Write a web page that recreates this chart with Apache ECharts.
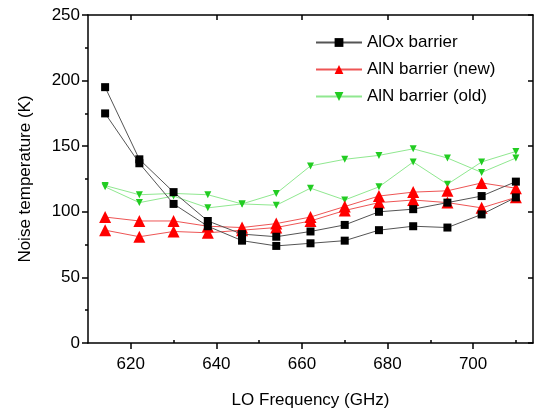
<!DOCTYPE html>
<html lang="en">
<head>
    <meta charset="UTF-8">
    <title>Noise temperature</title>
    <script src="https://cdn.jsdelivr.net/npm/echarts@6/dist/echarts.min.js"></script>
    <style>
        html, body { margin: 0; padding: 0; background: #fff; }
        #main { width: 544px; height: 414px; }
    </style>
</head>
<body>
<div id="main"></div>
<script>
    // LO frequency (GHz)
    var freqs = [614, 622, 630, 638, 646, 654, 662, 670, 678, 686, 694, 702, 710];
    // two measurements per barrier type
    var aloxA = [195, 140, 115, 93, 83, 81, 85, 90, 100, 102, 107, 112, 123];
    var aloxB = [175, 137, 106, 89, 78, 74, 76, 78, 86, 89, 88, 98, 111];
    var alnNewA = [96, 93, 93, 89, 88, 91, 96, 104, 112, 115, 116, 122, 118];
    var alnNewB = [86, 81, 85, 84, 86, 88, 93, 101, 107, 109, 107, 103, 111];
    var alnOldA = [120, 113, 114, 113, 106, 114, 135, 140, 143, 148, 141, 130, 141];
    var alnOldB = [119, 107, 112, 103, 106, 105, 118, 109, 119, 138, 121, 138, 146];

    var xMajor = [620, 640, 660, 680, 700];
    var xMinor = [630, 650, 670, 690, 710];

    function pts(ys) {
        var out = [];
        for (var i = 0; i < freqs.length; i++) {
            out.push([freqs[i], ys[i]]);
        }
        return out;
    }

    var font = 'Liberation Sans, Arial, sans-serif';

    function line(name, ys, symbol, size, rotate, markColor, lineColor, z) {
        return {
            name: name,
            type: 'line',
            data: pts(ys),
            symbol: symbol,
            symbolSize: size,
            symbolRotate: rotate,
            z: z,
            itemStyle: { color: markColor },
            lineStyle: { color: lineColor, width: 1 },
            animation: false
        };
    }

    var myChart = echarts.init(document.getElementById('main'));
    myChart.setOption({
        backgroundColor: '#fff',
        grid: { left: 88, right: 11, top: 15, bottom: 69 },
        legend: {
            orient: 'vertical',
            left: 310,
            top: 29,
            itemGap: 10,
            itemWidth: 46,
            itemHeight: 11,
            textStyle: { fontFamily: font, fontSize: 17, color: '#000' },
            data: ['AlOx barrier', 'AlN barrier (new)', 'AlN barrier (old)']
        },
        xAxis: [
            {
                type: 'value', min: 610, max: 714,
                name: 'LO Frequency (GHz)', nameLocation: 'middle', nameGap: 49,
                nameTextStyle: { fontFamily: font, fontSize: 17, color: '#000' },
                axisLine: { lineStyle: { color: '#000', width: 1.5 } },
                axisTick: { customValues: xMajor, length: 6, lineStyle: { color: '#000', width: 1.5 } },
                axisLabel: { customValues: xMajor, fontFamily: font, fontSize: 17, color: '#000', margin: 13 },
                splitLine: { show: false }
            },
            {
                type: 'value', min: 610, max: 714, gridIndex: 0,
                axisLine: { show: false },
                axisTick: { customValues: xMinor, length: 3, lineStyle: { color: '#000', width: 1.5 } },
                axisLabel: { show: false },
                splitLine: { show: false }
            },
            {
                type: 'value', min: 610, max: 714, position: 'top',
                axisLine: { lineStyle: { color: '#000', width: 1.5 } },
                axisTick: { customValues: xMajor, inside: true, length: 5, lineStyle: { color: '#000', width: 1.5 } },
                axisLabel: { show: false },
                splitLine: { show: false }
            }
        ],
        yAxis: [
            {
                type: 'value', min: 0, max: 250, interval: 50,
                name: 'Noise temperature (K)', nameLocation: 'middle', nameGap: 54,
                nameTextStyle: { fontFamily: font, fontSize: 17, color: '#000' },
                axisLine: { lineStyle: { color: '#000', width: 1.5 } },
                axisTick: { length: 6, lineStyle: { color: '#000', width: 1.5 } },
                minorTick: { show: true, splitNumber: 2, length: 3, lineStyle: { color: '#000', width: 1.5 } },
                axisLabel: { fontFamily: font, fontSize: 17, color: '#000', margin: 8 },
                splitLine: { show: false }
            },
            {
                type: 'value', min: 0, max: 250, interval: 50, position: 'right',
                axisLine: { lineStyle: { color: '#000', width: 1.5 } },
                axisTick: { inside: true, length: 5, lineStyle: { color: '#000', width: 1.5 } },
                axisLabel: { show: false },
                splitLine: { show: false }
            }
        ],
        series: [
            line('AlOx barrier', aloxA, 'rect', 8, 0, '#000', '#555', 6),
            line('AlOx barrier', aloxB, 'rect', 8, 0, '#000', '#555', 6),
            line('AlN barrier (new)', alnNewA, 'triangle', 12, 0, '#ff0000', '#ee5555', 4),
            line('AlN barrier (new)', alnNewB, 'triangle', 12, 0, '#ff0000', '#ee5555', 4),
            line('AlN barrier (old)', alnOldA, 'triangle', 7, 180, '#22cc22', '#90e890', 2),
            line('AlN barrier (old)', alnOldB, 'triangle', 7, 180, '#22cc22', '#90e890', 2)
        ]
    });
</script>
</body>
</html>
